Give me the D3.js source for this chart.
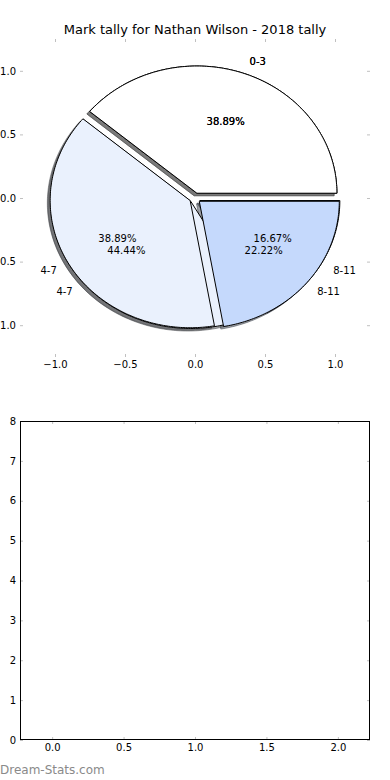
<!DOCTYPE html>
<html>
<head>
<meta charset="utf-8">
<script src="https://cdn.jsdelivr.net/npm/d3@7"></script>
<style>
  html, body { margin: 0; padding: 0; background: #fff; }
  svg { display: block; font-family: "DejaVu Sans", sans-serif; }
</style>
</head>
<body>
<svg id="chart" width="390" height="780"></svg>
<script>
// ---- data ----
const title = "Mark tally for Nathan Wilson - 2018 tally";
const categories = ["0-3", "4-7", "8-11"];
const tallyFirst = [7, 8, 3];   // 38.89%, 44.44%, 16.67%
const tallySecond = [7, 7, 4];  // 38.89%, 38.89%, 22.22%
const explodeBy = [0.04, 0.04, 0.04];
const pieXTicks = [-1.0, -0.5, 0.0, 0.5, 1.0];
const pieYTicks = [-1.0, -0.5, 0.0, 0.5, 1.0];
const barXTicks = [0.0, 0.5, 1.0, 1.5, 2.0];
const barYTicks = [0, 1, 2, 3, 4, 5, 6, 7, 8];
const watermark = "Dream-Stats.com";

// ---- styles ----
const sliceColors = ["#ffffff", "#eaf1fd", "#c5d9fc"];
const tickColor = "#c0c0c0";
const fontSize = 10;

const svg = d3.select("#chart");

// ---- top: pie axes ----
const px = d3.scaleLinear().domain([-1.25, 1.25]).range([20, 370]);
const py = d3.scaleLinear().domain([-1.25, 1.25]).range([357, 39]);

svg.append("text")
  .attr("x", 195).attr("y", 34)
  .attr("text-anchor", "middle")
  .attr("font-size", 13)
  .attr("fill", "#000")
  .text(title);

function styleAxis(g, showLabels) {
  g.select(".domain").remove();
  g.selectAll(".tick line").attr("stroke", tickColor).attr("stroke-width", 1);
  g.selectAll(".tick text")
    .attr("fill", "#000")
    .attr("font-size", fontSize)
    .attr("font-family", "DejaVu Sans, sans-serif");
  if (!showLabels) g.selectAll(".tick text").remove();
}

const fmt1 = d3.format(".1f");
svg.append("g").attr("transform", "translate(0,357)")
  .call(d3.axisBottom(px).tickValues(pieXTicks).tickFormat(fmt1).tickSizeInner(-3).tickSizeOuter(0).tickPadding(4))
  .call(g => styleAxis(g, true));
svg.append("g").attr("transform", "translate(0,39)")
  .call(d3.axisTop(px).tickValues(pieXTicks).tickSizeInner(-3).tickSizeOuter(0))
  .call(g => styleAxis(g, false));
svg.append("g").attr("transform", "translate(20,0)")
  .call(d3.axisLeft(py).tickValues(pieYTicks).tickFormat(fmt1).tickSizeInner(-3).tickSizeOuter(0).tickPadding(4))
  .call(g => styleAxis(g, true));
svg.append("g").attr("transform", "translate(370,0)")
  .call(d3.axisRight(py).tickValues(pieYTicks).tickSizeInner(-3).tickSizeOuter(0))
  .call(g => styleAxis(g, false));

// pie geometry (matplotlib style: start at 3 o'clock, counter-clockwise)
const pieGen = d3.pie().sort(null).value(d => d);
const line = d3.line().x(p => px(p[0])).y(p => py(p[1]));

function wedges(values) {
  return pieGen(values).map((a, i) => {
    const t1 = a.startAngle, t2 = a.endAngle, mid = (t1 + t2) / 2;
    const cx = explodeBy[i] * Math.cos(mid), cy = explodeBy[i] * Math.sin(mid);
    return { i, t1, t2, mid, cx, cy, frac: (t2 - t1) / (2 * Math.PI) };
  });
}
function wedgePoints(w, ox, oy) {
  const n = Math.max(8, Math.ceil((w.t2 - w.t1) / (Math.PI / 180)));
  const pts = [[w.cx + ox, w.cy + oy]];
  for (let k = 0; k <= n; k++) {
    const t = w.t1 + (w.t2 - w.t1) * k / n;
    pts.push([w.cx + ox + Math.cos(t), w.cy + oy + Math.sin(t)]);
  }
  return pts;
}

const pies = [wedges(tallyFirst), wedges(tallySecond)];
const pieLayer = svg.append("g");

// shadows first (drawn below all wedges)
pies.forEach(ws => ws.forEach(w => {
  const c = d3.rgb(sliceColors[w.i]);
  const sc = d3.rgb(c.r * 0.3, c.g * 0.3, c.b * 0.3);
  pieLayer.append("path")
    .attr("d", line(wedgePoints(w, -0.02, -0.02)) + "Z")
    .attr("fill", sc).attr("fill-opacity", 0.5)
    .attr("stroke", sc).attr("stroke-opacity", 0.5).attr("stroke-width", 1)
    .attr("stroke-linejoin", "miter");
}));
// wedges
pies.forEach(ws => ws.forEach(w => {
  pieLayer.append("path")
    .attr("d", line(wedgePoints(w, 0, 0)) + "Z")
    .attr("fill", sliceColors[w.i])
    .attr("stroke", "#000").attr("stroke-width", 1)
    .attr("stroke-linejoin", "miter");
}));
// labels
pies.forEach(ws => ws.forEach(w => {
  const lx = w.cx + 1.1 * Math.cos(w.mid), ly = w.cy + 1.1 * Math.sin(w.mid);
  pieLayer.append("text")
    .attr("x", px(lx)).attr("y", py(ly))
    .attr("text-anchor", lx > 0 ? "start" : "end")
    .attr("dominant-baseline", "central")
    .attr("font-size", fontSize).attr("fill", "#000")
    .text(categories[w.i]);
  const tx = w.cx + 0.6 * Math.cos(w.mid), ty = w.cy + 0.6 * Math.sin(w.mid);
  pieLayer.append("text")
    .attr("x", px(tx)).attr("y", py(ty))
    .attr("text-anchor", "middle")
    .attr("dominant-baseline", "central")
    .attr("font-size", fontSize).attr("fill", "#000")
    .text((w.frac * 100).toFixed(2) + "%");
}));

// ---- bottom: empty bar axes ----
const bx = d3.scaleLinear().domain([-0.225, 2.225]).range([20, 370]);
const by = d3.scaleLinear().domain([0, 8]).range([740, 421]);

svg.append("g").attr("transform", "translate(0,740)")
  .call(d3.axisBottom(bx).tickValues(barXTicks).tickFormat(fmt1).tickSizeInner(-3).tickSizeOuter(0).tickPadding(4))
  .call(g => styleAxis(g, true));
svg.append("g").attr("transform", "translate(0,421)")
  .call(d3.axisTop(bx).tickValues(barXTicks).tickSizeInner(-3).tickSizeOuter(0))
  .call(g => styleAxis(g, false));
svg.append("g").attr("transform", "translate(20,0)")
  .call(d3.axisLeft(by).tickValues(barYTicks).tickFormat(d3.format("d")).tickSizeInner(-3).tickSizeOuter(0).tickPadding(4))
  .call(g => styleAxis(g, true));
svg.append("g").attr("transform", "translate(370,0)")
  .call(d3.axisRight(by).tickValues(barYTicks).tickSizeInner(-3).tickSizeOuter(0))
  .call(g => styleAxis(g, false));

svg.append("rect")
  .attr("x", bx.range()[0] + 0.5).attr("y", by.range()[1] + 0.5)
  .attr("width", bx.range()[1] - bx.range()[0] - 1)
  .attr("height", by.range()[0] - by.range()[1] - 1)
  .attr("fill", "none").attr("stroke", "#000").attr("stroke-width", 1);

svg.append("text")
  .attr("x", 0).attr("y", 774)
  .attr("font-size", 12)
  .attr("fill", "#8a8a8a")
  .text(watermark);
</script>
</body>
</html>
